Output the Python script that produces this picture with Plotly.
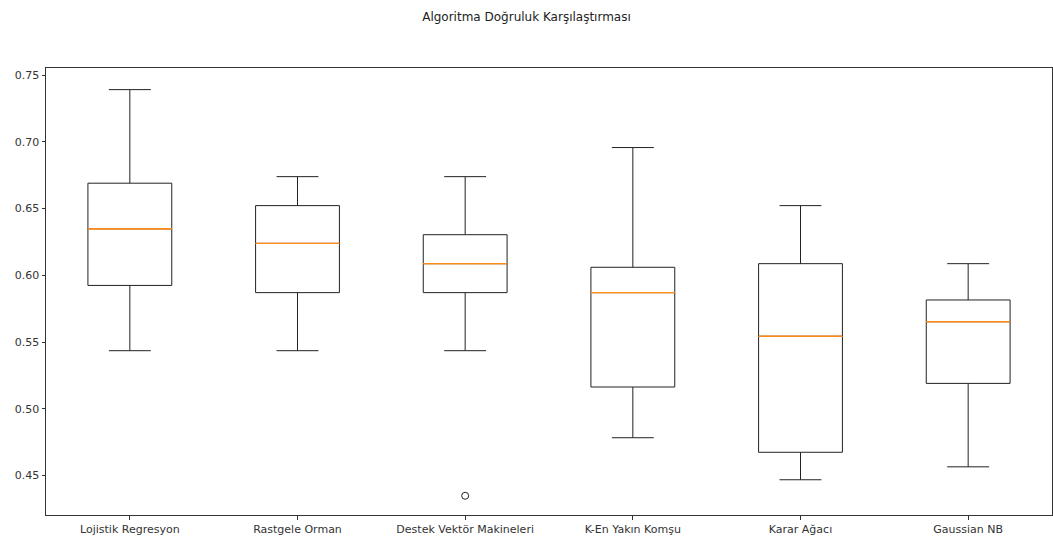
import plotly.graph_objects as go

categories = ["Lojistik Regresyon", "Rastgele Orman", "Destek Vektör Makineleri",
              "K-En Yakın Komşu", "Karar Ağacı", "Gaussian NB"]
upper_whisker = [0.7391, 0.6739, 0.6739, 0.6957, 0.6522, 0.6087]
q3 = [0.6690, 0.6522, 0.6304, 0.6060, 0.6087, 0.5815]
median = [0.6348, 0.6239, 0.6087, 0.5870, 0.5543, 0.5652]
q1 = [0.5924, 0.5870, 0.5870, 0.5163, 0.4674, 0.5190]
lower_whisker = [0.5435, 0.5435, 0.5435, 0.4783, 0.4468, 0.4565]
outlier_x = ["Destek Vektör Makineleri"]
outlier_y = [0.4348]

fig = go.Figure()
fig.add_trace(go.Box(
    x=categories, q1=q1, median=median, q3=q3,
    lowerfence=lower_whisker, upperfence=upper_whisker,
    fillcolor="rgba(0,0,0,0)", line=dict(color="#222", width=1),
    whiskerwidth=0.5, boxpoints=False, showlegend=False, hoverinfo="skip"))
fig.add_trace(go.Box(
    x=categories, q1=median, median=median, q3=median,
    lowerfence=median, upperfence=median,
    fillcolor="rgba(0,0,0,0)", line=dict(color="#ff8c1a", width=1),
    whiskerwidth=0, boxpoints=False, showlegend=False, hoverinfo="skip"))
fig.add_trace(go.Scatter(
    x=outlier_x, y=outlier_y, mode="markers",
    marker=dict(symbol="circle-open", size=7, color="#222", line=dict(width=1)),
    showlegend=False))

fig.update_layout(
    width=1053, height=540,
    margin=dict(l=46, r=1, t=68, b=25),
    paper_bgcolor="white", plot_bgcolor="white",
    boxmode="overlay", boxgap=0.5, boxgroupgap=0,
    font=dict(family="DejaVu Sans", size=11, color="#333"),
    title=dict(text="Algoritma Doğruluk Karşılaştırması", x=0.5, xanchor="center",
               y=1 - 17 / 540, yanchor="middle", font=dict(size=12, color="#222")),
)
fig.update_xaxes(range=[-0.5, 5.5], showgrid=False, showline=True, linecolor="#333",
                 linewidth=1, mirror=True, ticks="outside", ticklen=3.5,
                 tickcolor="#333", zeroline=False, tickfont=dict(size=11))
fig.update_yaxes(range=[0.4204, 0.7553], showgrid=False, showline=True, linecolor="#333",
                 linewidth=1, mirror=True, ticks="outside", ticklen=3.5,
                 tickcolor="#333", zeroline=False, tickvals=[0.45, 0.5, 0.55, 0.6, 0.65, 0.7, 0.75],
                 tickformat=".2f", tickfont=dict(size=11))

fig.write_html("out.html")
